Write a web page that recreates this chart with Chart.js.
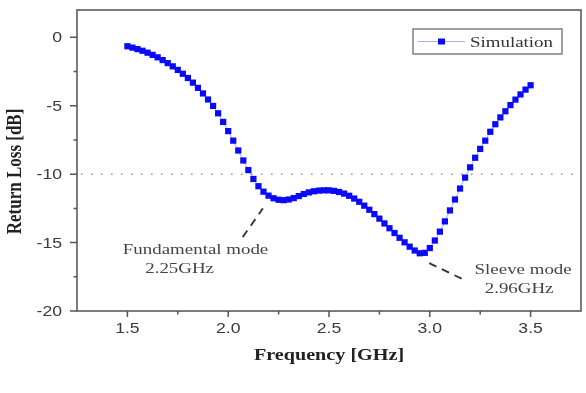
<!DOCTYPE html>
<html lang="en">
<head>
    <meta charset="UTF-8">
    <title>Return Loss</title>
    <script src="https://cdn.jsdelivr.net/npm/chart.js"></script>
    <style>
        html, body { margin: 0; padding: 0; background: #fff; }
        #wrap { width: 586px; height: 393px; }
    </style>
</head>
<body>
    <div id="wrap"><canvas id="rlChart"></canvas></div>

    <script>
        // data
        const freqs = [
            1.5, 1.525, 1.55, 1.575, 1.6, 1.625, 1.65, 1.675, 1.7, 1.725,
            1.75, 1.775, 1.8, 1.825, 1.85, 1.875, 1.9, 1.925, 1.95, 1.975,
            2.0, 2.025, 2.05, 2.075, 2.1, 2.125, 2.15, 2.175, 2.2, 2.225,
            2.25, 2.275, 2.3, 2.325, 2.35, 2.375, 2.4, 2.425, 2.45, 2.475,
            2.5, 2.525, 2.55, 2.575, 2.6, 2.625, 2.65, 2.675, 2.7, 2.725,
            2.75, 2.775, 2.8, 2.825, 2.85, 2.875, 2.9, 2.925, 2.95, 2.975,
            3.0, 3.025, 3.05, 3.075, 3.1, 3.125, 3.15, 3.175, 3.2, 3.225,
            3.25, 3.275, 3.3, 3.325, 3.35, 3.375, 3.4, 3.425, 3.45, 3.475,
            3.5
        ];
        const returnLoss = [
            -0.65, -0.75, -0.86, -0.98, -1.12, -1.28, -1.46, -1.66, -1.88, -2.12,
            -2.38, -2.66, -2.97, -3.31, -3.69, -4.10, -4.54, -5.01, -5.55, -6.18,
            -6.85, -7.55, -8.27, -9.0, -9.7, -10.35, -10.88, -11.28, -11.57, -11.76,
            -11.87, -11.9, -11.85, -11.75, -11.6, -11.45, -11.33, -11.25, -11.2, -11.18,
            -11.18, -11.22, -11.3, -11.42, -11.58, -11.78, -12.02, -12.3, -12.6, -12.92,
            -13.25, -13.6, -13.95, -14.3, -14.65, -14.98, -15.3, -15.58, -15.78, -15.75,
            -15.4, -14.85, -14.2, -13.45, -12.65, -11.85, -11.05, -10.25, -9.5, -8.8,
            -8.15, -7.55, -6.9, -6.35, -5.85, -5.4, -4.95, -4.55, -4.17, -3.82,
            -3.5
        ];
        const xTicks = [1.5, 2.0, 2.5, 3.0, 3.5];
        const xMinorTicks = [1.75, 2.25, 2.75, 3.25];
        const yTicks = [0, -5, -10, -15, -20];
        const yMinorTicks = [-2.5, -7.5, -12.5, -17.5];
        const threshold = -10;

        // annotation text (x, baseline y in data units) and leader lines
        const noteTexts = [
            { text: 'Fundamental mode', x: 1.838, y: -15.86 },
            { text: '2.25GHz', x: 1.759, y: -17.25 },
            { text: 'Sleeve mode', x: 3.463, y: -17.32 },
            { text: '2.96GHz', x: 3.443, y: -18.71 }
        ];
        const leaders = [
            [2.072, -14.6, 2.172, -12.5],
            [2.997, -16.5, 3.167, -17.7]
        ];

        // the reference image is squeezed wider than tall
        const SX = 1.26;

        function stretchText(ctx, text, x, y, font, color, align, rotate) {
            ctx.save();
            ctx.font = font;
            ctx.fillStyle = color;
            ctx.textAlign = align;
            ctx.textBaseline = 'alphabetic';
            ctx.translate(x, y);
            ctx.scale(SX, 1);
            if (rotate) ctx.rotate(-Math.PI / 2);
            ctx.fillText(text, 0, 0);
            ctx.restore();
        }

        const decorPlugin = {
            id: 'decor',
            beforeDatasetsDraw(chart) {
                const ctx = chart.ctx;
                const area = chart.chartArea;
                const yS = chart.scales.y;
                // dotted -10 dB line
                ctx.save();
                ctx.strokeStyle = '#9a9a9a';
                ctx.lineWidth = 1.6;
                ctx.setLineDash([1.6, 8.4]);
                const yy = yS.getPixelForValue(threshold);
                ctx.beginPath();
                ctx.moveTo(area.left + 4, yy);
                ctx.lineTo(area.right, yy);
                ctx.stroke();
                ctx.restore();
            },
            afterDraw(chart) {
                const ctx = chart.ctx;
                const area = chart.chartArea;
                const xS = chart.scales.x;
                const yS = chart.scales.y;

                // frame
                ctx.save();
                ctx.strokeStyle = '#666';
                ctx.lineWidth = 1.7;
                ctx.strokeRect(area.left, area.top, area.right - area.left, area.bottom - area.top);

                // ticks
                ctx.strokeStyle = '#555';
                ctx.lineWidth = 1.5;
                ctx.beginPath();
                xTicks.forEach(v => {
                    const px = xS.getPixelForValue(v);
                    ctx.moveTo(px, area.bottom);
                    ctx.lineTo(px, area.bottom + 6);
                });
                xMinorTicks.forEach(v => {
                    const px = xS.getPixelForValue(v);
                    ctx.moveTo(px, area.bottom);
                    ctx.lineTo(px, area.bottom + 3.5);
                });
                yTicks.forEach(v => {
                    const py = yS.getPixelForValue(v);
                    ctx.moveTo(area.left, py);
                    ctx.lineTo(area.left - 7, py);
                });
                yMinorTicks.forEach(v => {
                    const py = yS.getPixelForValue(v);
                    ctx.moveTo(area.left, py);
                    ctx.lineTo(area.left - 3.5, py);
                });
                ctx.stroke();
                ctx.restore();

                // tick labels
                const tickFont = '14px "Liberation Sans", Arial, sans-serif';
                xTicks.forEach(v => {
                    stretchText(ctx, v.toFixed(1), xS.getPixelForValue(v), area.bottom + 22, tickFont, '#3a3a3a', 'center');
                });
                yTicks.forEach(v => {
                    stretchText(ctx, String(v), area.left - 15, yS.getPixelForValue(v) + 5, tickFont, '#3a3a3a', 'right');
                });

                // axis titles
                const titleFont = 'bold 16px "Liberation Serif", "Times New Roman", serif';
                stretchText(ctx, 'Frequency [GHz]', (area.left + area.right) / 2, area.bottom + 49, titleFont, '#222', 'center');
                stretchText(ctx, 'Return Loss [dB]', 21, yS.getPixelForValue(-9.8), 'bold 17px "Liberation Serif", "Times New Roman", serif', '#222', 'center', true);

                // leader lines
                ctx.save();
                ctx.strokeStyle = '#333';
                ctx.lineWidth = 1.8;
                ctx.setLineDash([8, 6]);
                leaders.forEach(l => {
                    ctx.beginPath();
                    ctx.moveTo(xS.getPixelForValue(l[0]), yS.getPixelForValue(l[1]));
                    ctx.lineTo(xS.getPixelForValue(l[2]), yS.getPixelForValue(l[3]));
                    ctx.stroke();
                });
                ctx.restore();

                // annotation text
                const noteFont = '15px "Liberation Serif", "Times New Roman", serif';
                noteTexts.forEach(n => {
                    stretchText(ctx, n.text, xS.getPixelForValue(n.x), yS.getPixelForValue(n.y), noteFont, '#444', 'center');
                });

                // legend box
                const lx = area.right - 168, ly = area.top + 19, lw = 149, lh = 25;
                ctx.save();
                ctx.fillStyle = '#fff';
                ctx.fillRect(lx, ly, lw, lh);
                ctx.strokeStyle = '#777';
                ctx.lineWidth = 1.4;
                ctx.strokeRect(lx, ly, lw, lh);
                ctx.strokeStyle = '#a8a8ff';
                ctx.lineWidth = 1;
                ctx.beginPath();
                ctx.moveTo(lx + 5, ly + lh / 2);
                ctx.lineTo(lx + 52, ly + lh / 2);
                ctx.stroke();
                ctx.fillStyle = '#0a0af5';
                ctx.fillRect(lx + 25, ly + lh / 2 - 3, 7, 6);
                ctx.restore();
                stretchText(ctx, 'Simulation', lx + 57, ly + 18, noteFont, '#333', 'left');
            }
        };

        const points = freqs.map((f, i) => ({ x: f, y: returnLoss[i] }));

        new Chart(document.getElementById('rlChart'), {
            type: 'scatter',
            data: {
                datasets: [{
                    label: 'Simulation',
                    data: points,
                    showLine: true,
                    borderColor: '#a8a8ff',
                    borderWidth: 1,
                    backgroundColor: '#0a0af5',
                    pointBorderColor: '#0a0af5',
                    pointBorderWidth: 0,
                    pointStyle: 'rect',
                    pointRadius: 4.4,
                    pointHoverRadius: 4.4
                }]
            },
            options: {
                responsive: true,
                maintainAspectRatio: false,
                animation: false,
                layout: { padding: { left: 77, right: 5, top: 10, bottom: 82 } },
                plugins: {
                    legend: { display: false },
                    tooltip: { enabled: false }
                },
                scales: {
                    x: { type: 'linear', min: 1.25, max: 3.75, display: false },
                    y: { type: 'linear', min: -20, max: 2, display: false }
                }
            },
            plugins: [decorPlugin]
        });
    </script>
</body>
</html>
